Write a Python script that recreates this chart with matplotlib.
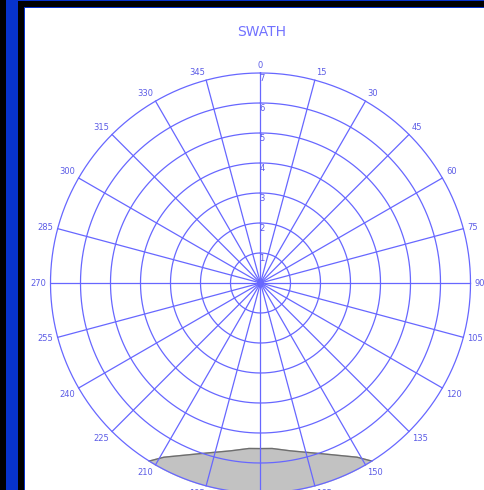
import numpy as np
import matplotlib
matplotlib.use("Agg")
import matplotlib.pyplot as plt
from matplotlib.patches import Rectangle

# ---- data ----
title = "SWATH"
ring_values = [1, 2, 3, 4, 5, 6, 7]
ring_labels = ["1", "2", "3", "4", "5", "6", "7"]
bearing_ticks = [0, 15, 30, 45, 60, 75, 90, 105, 120, 135, 150, 165,
                 180, 195, 210, 225, 240, 255, 270, 285, 300, 315, 330, 345]
bearing_labels = ["0", "15", "30", "45", "60", "75", "90", "105", "120", "135",
                  "150", "165", "180", "195", "210", "225", "240", "255",
                  "270", "285", "300", "315", "330", "345"]
# swath boundary (bearing in degrees, range)
swath_bearing = [148, 151, 160, 170, 176, 180, 184, 190, 200, 209, 212]
swath_range = [7.0, 6.64, 6.06, 5.68, 5.53, 5.52, 5.53, 5.68, 6.06, 6.64, 7.0]

W, H = 485, 490
DPI = 100
GRID = "#6767ff"
TEXT = "#5c5ce6"
FRAME_BLUE = "#0733cc"

fig = plt.figure(figsize=(W / DPI, H / DPI), dpi=DPI, facecolor="white")


def px_rect(x0, y0, x1, y1, color):
    """Rectangle given in pixel coordinates measured from the top-left."""
    fig.add_artist(Rectangle((x0 / W, 1 - y1 / H), (x1 - x0) / W, (y1 - y0) / H,
                             transform=fig.transFigure, facecolor=color,
                             edgecolor="none", zorder=10))


# window frame
px_rect(0, 0, W, 8, "black")
px_rect(0, 0, 25, H, "black")
px_rect(18, 0, W, 1, FRAME_BLUE)
px_rect(24, 7, W, 8, FRAME_BLUE)
px_rect(6, 0, 18, H, FRAME_BLUE)
px_rect(24, 7, 25, H, FRAME_BLUE)

# polar plot area (extends past the lower edge of the window)
cx, cy, R = 260.5, 283, 210
ax = fig.add_axes([(cx - R) / W, 1 - (cy + R) / H, 2 * R / W, 2 * R / H],
                  projection="polar")
ax.set_theta_zero_location("N")
ax.set_theta_direction(-1)
rmax = ring_values[-1]
ax.set_ylim(0, rmax)
ax.set_axis_off()
ax.set_clip_on(False)

# swath coverage
th = np.deg2rad(swath_bearing)
outer_th = np.linspace(th[-1], th[0], 60)
poly_th = np.concatenate([th, outer_th])
poly_r = np.concatenate([swath_range, np.full(outer_th.size, rmax)])
ax.fill(poly_th, poly_r, color="#c2c2c2", zorder=1, clip_on=False)
ax.plot(th, swath_range, color="#6e6e6e", lw=1.0, zorder=2, clip_on=False)

# range rings
t = np.linspace(0, 2 * np.pi, 721)
for r in ring_values:
    ax.plot(t, np.full_like(t, r), color=GRID, lw=0.9, zorder=3, clip_on=False)
ax.plot(t, np.full_like(t, 0.1), color=GRID, lw=0.9, zorder=3, clip_on=False)

# bearing spokes
for b in bearing_ticks:
    a = np.deg2rad(b)
    ax.plot([a, a], [0, rmax], color=GRID, lw=0.9, zorder=3, clip_on=False)

# ring labels along the north spoke
for r, lab in zip(ring_values, ring_labels):
    ax.annotate(lab, (0, r), xytext=(1, -1), textcoords="offset points",
                ha="center", va="top", fontsize=6, color=TEXT, zorder=4,
                annotation_clip=False)

# bearing labels around the outer ring
for b, lab in zip(bearing_ticks, bearing_labels):
    a = np.deg2rad(b)
    s, c = np.sin(a), np.cos(a)
    if abs(s) < 1e-6:
        ha = "center"
    else:
        ha = "left" if s > 0 else "right"
    if c > 0.3:
        va = "bottom"
    elif c < -0.3:
        va = "top"
    else:
        va = "center"
    ax.annotate(lab, (a, rmax), xytext=(3 * s, 2.5 * c), textcoords="offset points",
                ha=ha, va=va, fontsize=6, color=TEXT, zorder=4,
                annotation_clip=False)

fig.text(262 / W, 1 - 32 / H, title, ha="center", va="center", fontsize=10,
         color="#7272ff", zorder=5)

fig.savefig("out.png", dpi=DPI, facecolor="white")
